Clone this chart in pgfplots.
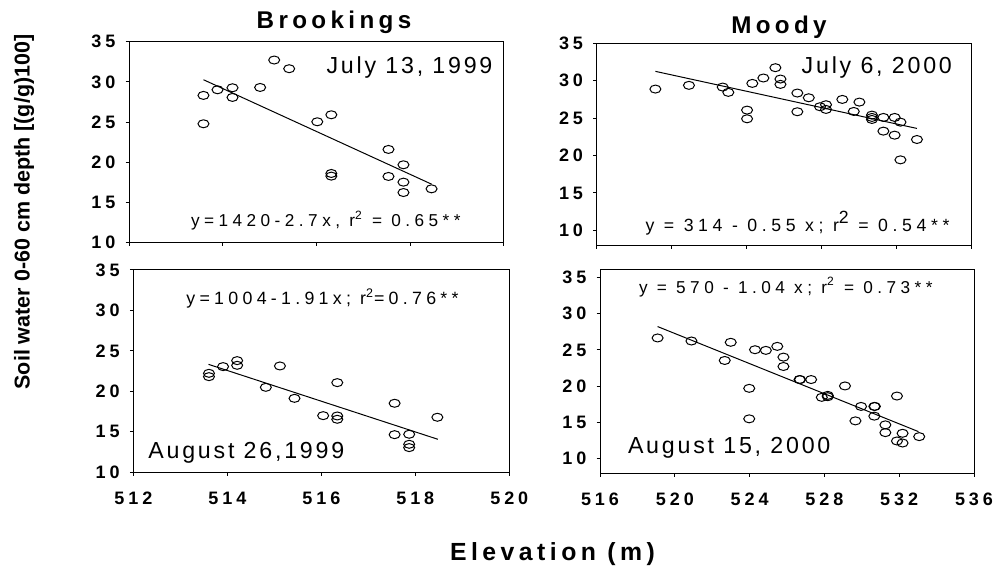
\documentclass[border=0pt]{standalone}
\usepackage{fontspec}
\setmainfont{Liberation Sans}
\newfontfamily\spA{Liberation Sans}[LetterSpace=22]
\newfontfamily\spB{Liberation Sans}[LetterSpace=18]
\newfontfamily\spC{Liberation Sans}[LetterSpace=12]
\newfontfamily\spD{Liberation Sans}[LetterSpace=26]
\newfontfamily\spE{Liberation Sans}[LetterSpace=24]
\newcommand\tickfont{\fontsize{9}{10}\selectfont\spA\bfseries}
\usepackage{pgfplots}
\pgfplotsset{compat=1.18}
\pgfplotsset{
  panel/.style={
    scale only axis,
    axis line style={line width=0.5pt},
    tick align=outside,
    tick pos=left,
    major tick length=1.65pt,
    tick style={black, line width=0.5pt},
    /pgf/number format/assume math mode=true,
    /pgf/number format/1000 sep={},
    xticklabel style={font=\tickfont, inner sep=0pt, yshift=-8pt},
    yticklabel style={font=\tickfont, inner sep=0pt, xshift=-5pt},
    ytick={10,15,20,25,30,35},
    clip=false,
  },
  pts/.style={only marks, mark=o, mark size=2pt, line width=0.5pt, black,
    mark options={xscale=1.375}},
  reg/.style={black, line width=0.5pt, mark=none},
}
\begin{document}
\begin{tikzpicture}
\useasboundingbox (0,0) rectangle (499pt,-285.5pt);
% Top-left: Brookings, July 13 1999
\begin{axis}[panel, at={(64.5pt,-20.85pt)}, anchor=north west,
  width=187.35pt, height=100.5pt,
  xmin=512, xmax=520, ymin=10, ymax=35,
  xtick={512,514,516,518,520}, xticklabels={}]
\addplot[pts] coordinates {
(513.59,28.32) (513.59,24.79) (513.89,29.02) (514.21,29.27) (514.21,28.07)
(514.80,29.31) (515.10,32.72) (515.42,31.64) (516.02,25.04) (516.32,25.91)
(516.32,18.61) (516.32,18.28) (517.54,21.60) (517.54,18.24) (517.86,19.69)
(517.86,17.53) (517.86,16.24) (518.46,16.70)};
\addplot[reg] coordinates {(513.59,30.27) (518.46,17.28)};
\end{axis}
% Bottom-left: Brookings, August 26 1999
\begin{axis}[panel, at={(66.65pt,-135pt)}, anchor=north west,
  width=188pt, height=101.15pt,
  xmin=512, xmax=520, ymin=10, ymax=35,
  xtick={512,514,516,518,520}]
\addplot[pts] coordinates {
(513.61,22.23) (513.61,21.82) (513.91,23.06) (514.21,23.80) (514.21,23.22)
(514.82,20.50) (515.12,23.14) (515.43,19.14) (516.04,17.00) (516.34,21.08)
(516.34,16.96) (516.34,16.55) (517.56,18.53) (517.56,14.65) (517.87,14.70)
(517.87,13.46) (517.87,13.05) (518.47,16.80)};
\addplot[reg] coordinates {(513.60,23.34) (518.48,14.08)};
\end{axis}
% Top-right: Moody, July 6 2000
\begin{axis}[panel, at={(298.35pt,-21.65pt)}, anchor=north west,
  width=187.5pt, height=101pt,
  xmin=516, xmax=536, ymin=8, ymax=35,
  xtick={516,520,524,528,532,536}, xticklabels={}]
\addplot[pts] coordinates {
(519.13,28.88) (520.92,29.38) (522.72,29.15) (523.02,28.44) (524.02,26.07)
(524.02,24.91) (524.30,29.64) (524.89,30.36) (525.53,31.74) (525.80,30.22)
(525.80,29.51) (526.70,28.35) (526.70,25.85) (527.31,27.72) (527.91,26.52)
(528.23,26.79) (528.23,26.16) (529.10,27.50) (529.71,25.89) (530.01,27.14)
(530.68,25.40) (530.68,24.82) (530.68,25.09) (531.29,25.09) (531.29,23.26)
(531.89,25.09) (531.89,22.72) (532.20,24.46) (532.20,19.42) (533.08,22.14)};
\addplot[reg] coordinates {(519.13,31.25) (533.08,23.62)};
\end{axis}
% Bottom-right: Moody, August 15 2000
\begin{axis}[panel, at={(300pt,-135pt)}, anchor=north west,
  width=187pt, height=101.65pt,
  xmin=516, xmax=536, ymin=8, ymax=36,
  xtick={516,520,524,528,532,536}]
\addplot[pts] coordinates {
(519.08,26.64) (520.89,26.22) (522.67,23.54) (522.99,26.04) (523.98,19.70)
(523.98,15.50) (524.29,25.02) (524.87,24.93) (525.48,25.48) (525.81,24.00)
(525.81,22.71) (526.67,20.91) (526.70,20.91) (527.29,20.91) (527.86,18.46)
(528.18,18.73) (528.18,18.55) (529.10,20.03) (529.66,15.22) (529.96,17.21)
(530.67,17.21) (530.70,17.21) (530.67,15.87) (531.26,14.67) (531.26,13.60)
(531.88,18.64) (531.88,12.45) (532.18,13.51) (532.18,12.17) (533.07,13.05)};
\addplot[reg] coordinates {(519.08,28.21) (533.03,13.74)};
\end{axis}
% Titles and labels
\node[anchor=base, font=\fontsize{12.1}{14}\selectfont\spB\bfseries] at (167pt,-14.15pt) {Brookings};
\node[anchor=base, font=\fontsize{12.1}{14}\selectfont\spB\bfseries] at (389.5pt,-16.65pt) {Moody};
\node[anchor=base, font=\fontsize{12.4}{14}\selectfont\spB\bfseries] at (276.25pt,-280.5pt) {Elevation (m)};
\node[rotate=90, anchor=center, font=\fontsize{10.75}{12}\selectfont\bfseries] at (12pt,-106pt) {Soil water 0-60 cm depth [(g/g)100]};
% Dates
\node[anchor=base, font=\fontsize{11.6}{13}\selectfont\spC] at (204.75pt,-36.65pt) {July 13, 1999};
\node[anchor=base, font=\fontsize{11.6}{13}\selectfont\spC] at (438.4pt,-36.65pt) {July 6, 2000};
\node[anchor=base, font=\fontsize{11.6}{13}\selectfont\spC] at (123.15pt,-229.15pt) {August 26,1999};
\node[anchor=base, font=\fontsize{11.6}{13}\selectfont\spC] at (364.6pt,-226.65pt) {August 15, 2000};
% Equations
\node[anchor=base, font=\fontsize{8.6}{10}\selectfont\spD] at (162.9pt,-113.35pt) {y=1420-2.7x, r\textsuperscript{2} = 0.65**};
\node[anchor=base, font=\fontsize{8.85}{10}\selectfont\spD] at (398.75pt,-115.85pt) {y = 314 - 0.55 x; r\raisebox{0.45em}{2} = 0.54**};
\node[anchor=base, font=\fontsize{8.9}{10}\selectfont\spE] at (161.25pt,-152.5pt) {y=1004-1.91x; r\textsuperscript{2}=0.76**};
\node[anchor=base, font=\fontsize{8.6}{10}\selectfont\spD] at (392.9pt,-146.65pt) {y = 570 - 1.04 x; r\textsuperscript{2} = 0.73**};
\end{tikzpicture}
\end{document}
